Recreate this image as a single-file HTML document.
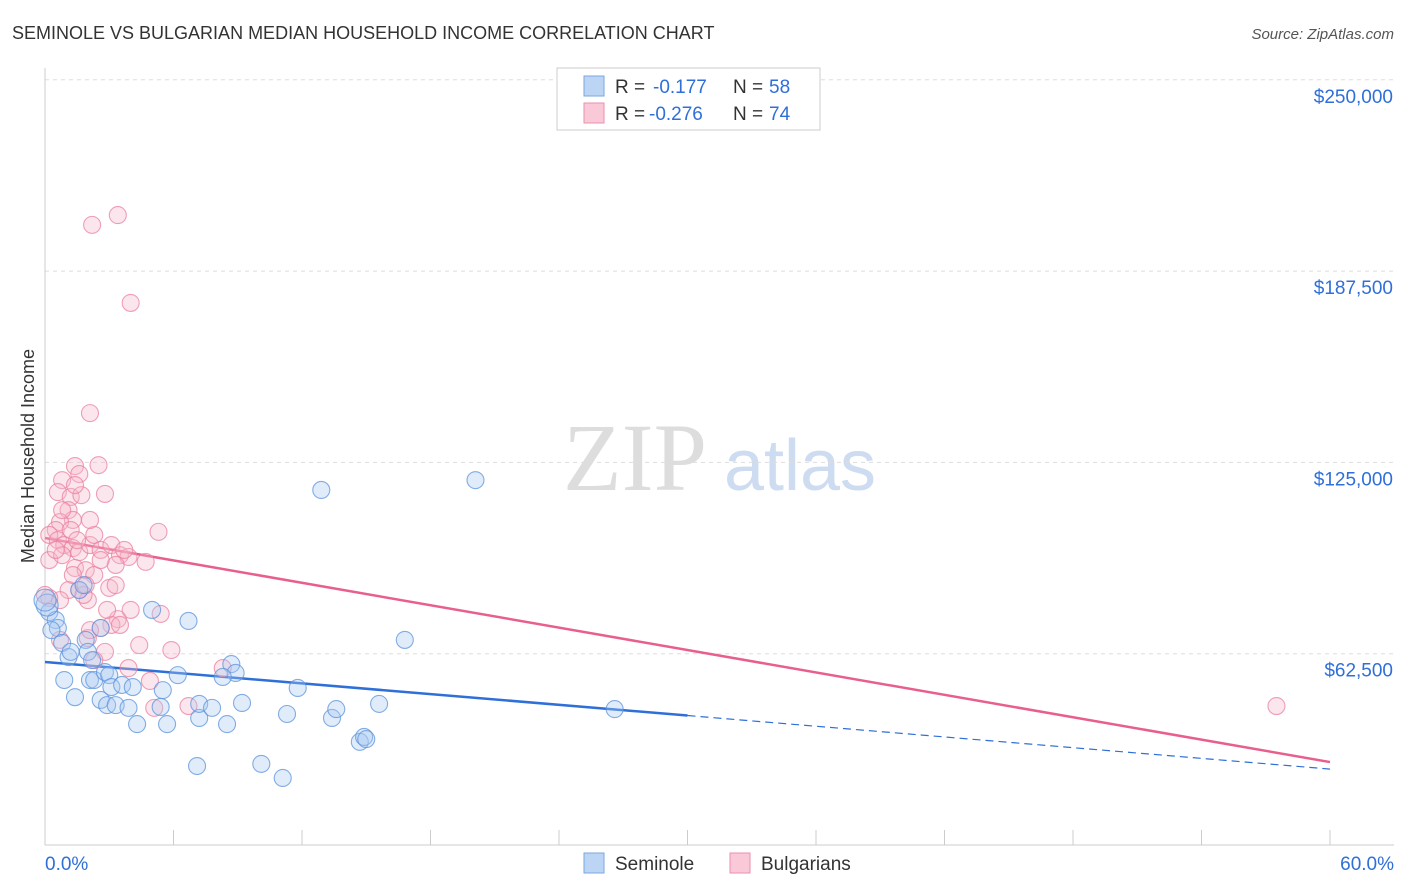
<!DOCTYPE html>
<html><head><meta charset="utf-8"><style>
body{margin:0;background:#fff;font-family:"Liberation Sans",sans-serif}
svg{display:block}
</style></head><body>
<svg id="chart" width="1406" height="892">
<text x="12" y="39" font-size="18" fill="#333">SEMINOLE VS BULGARIAN MEDIAN HOUSEHOLD INCOME CORRELATION CHART</text>
<text x="1394" y="39" font-size="15" fill="#555" text-anchor="end" font-style="italic">Source: ZipAtlas.com</text>
<text x="34" y="456" font-size="18" fill="#333" text-anchor="middle" transform="rotate(-90 34 456)">Median Household Income</text>
<g><text x="635" y="490" font-size="96" fill="#ddd" font-family="Liberation Serif,serif" text-anchor="middle">ZIP</text><text x="800" y="490" font-size="72" fill="#cddcf0" text-anchor="middle">atlas</text></g>
<g id="grid"></g><g id="axes"></g><g id="trends"></g><g id="pts"></g>
<g>
<rect x="557" y="68" width="263" height="62" fill="#fff" stroke="#ccc"/>
<rect x="584" y="76" width="20" height="20" fill="#bcd5f5" stroke="#7aa7e0"/>
<rect x="584" y="103" width="20" height="20" fill="#f9c9d8" stroke="#eb8fae"/>
<text y="93" font-size="19" fill="#333"><tspan x="615">R =</tspan><tspan x="653" fill="#2f6fd8">-0.177</tspan><tspan x="733">N =</tspan><tspan x="769" fill="#2f6fd8">58</tspan></text>
<text y="120" font-size="19" fill="#333"><tspan x="615">R =</tspan><tspan x="649" fill="#2f6fd8">-0.276</tspan><tspan x="733">N =</tspan><tspan x="769" fill="#2f6fd8">74</tspan></text>
</g>
<g>
<rect x="584" y="853" width="20" height="20" fill="#bcd5f5" stroke="#7aa7e0"/><text x="615" y="870" font-size="19" fill="#333">Seminole</text>
<rect x="730" y="853" width="20" height="20" fill="#f9c9d8" stroke="#eb8fae"/><text x="761" y="870" font-size="19" fill="#333">Bulgarians</text>
</g>
</svg>
<script>
const yTicks=[62500,125000,187500,250000];
const yTickLabels=["$62,500","$125,000","$187,500","$250,000"];
const blueX=[0.2,0.5,0.6,0.3,0.8,0.9,1.1,1.2,1.4,1.6,1.8,1.9,2.0,2.1,2.2,2.3,2.6,2.6,2.8,2.9,3.0,3.1,3.3,3.6,3.9,4.1,4.3,5.0,5.4,5.5,5.7,6.2,6.7,7.1,7.2,7.2,7.8,8.5,8.7,8.9,8.3,9.2,10.1,11.1,11.3,11.8,12.9,13.4,13.6,14.7,14.9,15.0,15.6,16.8,20.1,26.6,0.1,0.0];
const blueY=[76.1,73.5,70.9,70.2,66.0,53.9,61.4,63.1,48.3,83.3,84.9,67.0,63.1,53.9,60.4,53.9,70.9,47.4,56.5,45.7,55.5,51.6,45.7,52.3,44.8,51.6,39.5,76.8,45.1,50.6,39.5,55.5,73.2,25.8,41.5,46.1,44.8,39.5,59.1,56.2,54.9,46.4,26.5,21.9,42.8,51.3,116.0,41.5,44.4,33.7,35.3,34.6,46.1,67.0,119.2,44.4,78.4,80.0];
const pinkX=[3.4,2.2,4.0,2.1,1.4,1.6,2.5,0.8,0.6,1.2,1.7,2.8,1.1,1.3,0.7,0.5,0.2,0.6,0.9,1.3,1.6,2.1,2.3,2.6,3.1,3.5,3.9,4.7,5.3,0.2,0.8,1.4,1.9,2.3,3.3,1.6,2.0,1.1,1.3,3.0,3.3,0.7,0.2,0.0,3.4,3.1,2.6,2.0,2.8,3.9,4.4,5.4,5.9,4.9,5.1,6.7,8.3,57.5,1.8,2.6,0.5,0.8,1.4,2.1,3.7,2.9,4.0,0.7,1.9,2.1,1.2,1.5,2.3,3.5];
const pinkY=[205.8,202.6,177.1,141.1,123.8,121.2,124.1,119.2,115.3,113.7,114.3,114.7,109.4,106.2,105.5,102.9,101.3,99.6,98.0,97.0,95.7,98.0,101.3,96.4,98.0,94.7,94.1,92.5,102.3,93.1,94.7,90.5,89.8,88.2,91.5,83.3,80.0,83.3,88.2,84.0,84.9,80.0,80.7,81.7,73.8,71.9,70.9,67.6,63.1,57.8,65.3,75.5,63.7,53.6,44.8,45.4,57.8,45.4,81.7,93.1,96.4,109.4,117.6,106.2,96.4,76.8,76.8,67.0,84.9,70.2,102.9,99.6,60.4,71.9];
const blueTrend=[59.8,24.8], pinkTrend=[100.3,27.1];
const NS="http://www.w3.org/2000/svg";
const X=v=>45+v/60*1285, Y=v=>845-v/62.5*191.3;
function mk(p,t,a){const e=document.createElementNS(NS,t);for(const k in a)e.setAttribute(k,a[k]);p.appendChild(e);return e;}
const grid=document.getElementById('grid'),axes=document.getElementById('axes'),tr=document.getElementById('trends'),pts=document.getElementById('pts');
yTicks.forEach((t,i)=>{
 const l=mk(grid,'line',{x1:45,x2:1394,y1:Y(t/1000),y2:Y(t/1000),stroke:'#ddd','stroke-dasharray':'4,4'});
 
 
 const tx=mk(axes,'text',{x:1393,y:Y(t/1000)+23,'font-size':19,fill:'#2f6fd8','text-anchor':'end'});
 tx.textContent=yTickLabels[i];
 
 
});
mk(axes,'line',{x1:45,x2:45,y1:68,y2:845,stroke:'#ccc'});
mk(axes,'line',{x1:45,x2:1394,y1:845,y2:845,stroke:'#ccc'});
for(let i=0;i<=10;i++){mk(axes,'line',{x1:X(i*6),x2:X(i*6),y1:830,y2:845,stroke:'#ccc'});}
const x0=mk(axes,'text',{x:45,y:870,'font-size':19,fill:'#2f6fd8'});x0.textContent='0.0%';


const x1=mk(axes,'text',{x:1394,y:870,'font-size':19,fill:'#2f6fd8','text-anchor':'end'});x1.textContent='60.0%';


function dot(x,y,f,s,r){const c=mk(pts,'circle',{cx:X(x),cy:Y(y),r:r,fill:f,'fill-opacity':0.35,stroke:s,'stroke-opacity':0.75,'stroke-width':1.1});return c;}
pinkX.forEach((x,i)=>{const c=dot(x,pinkY[i],'#f7b7cb','#e9809f',8.5);
 
 });
blueX.forEach((x,i)=>{const c=dot(x,blueY[i],'#a9c8f0','#5b93dc',i>=56?11:8.5);
 
 });
const bm=blueTrend[0]+(blueTrend[1]-blueTrend[0])*0.5;
let t1=mk(tr,'line',{x1:X(0),y1:Y(blueTrend[0]),x2:X(30),y2:Y(bm),stroke:'#2f6fd8','stroke-width':2.5});


let t2=mk(tr,'line',{x1:X(30),y1:Y(bm),x2:X(60),y2:Y(blueTrend[1]),stroke:'#2f6fd8','stroke-width':1.2,'stroke-dasharray':'8,5'});


let t3=mk(tr,'line',{x1:X(0),y1:Y(pinkTrend[0]),x2:X(60),y2:Y(pinkTrend[1]),stroke:'#e85f8d','stroke-width':2.5});


</script>
</body></html>
